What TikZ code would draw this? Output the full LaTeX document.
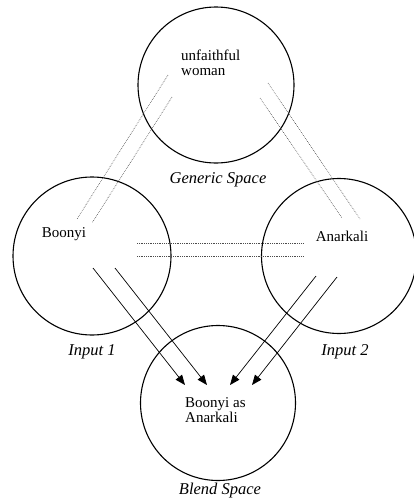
\documentclass[tikz,border=0pt]{standalone}
\usepackage{fontspec}
\setmainfont{Liberation Serif}
\usetikzlibrary{arrows.meta}
\begin{document}
\begin{tikzpicture}[x=1pt,y=-1pt,
  space/.style={draw, circle, line width=1.1pt, inner sep=0pt},
  lbl/.style={inner sep=0pt, font=\fontsize{15}{15.5}\selectfont},
  spacename/.style={inner sep=0pt, font=\fontsize{16.5}{18}\selectfont\itshape},
  dotline/.style={line width=0.6pt, black!70, dash pattern=on 0.7pt off 1.1pt},
  maparrow/.style={line width=0.7pt, -{Triangle[length=10pt,width=8pt]}}]
\useasboundingbox (0,0) rectangle (414,504);
% spaces
\node[space, minimum size=156pt] (gen) at (216,85) {};
\node[space, minimum size=158pt] (in1) at (92,256) {};
\node[space, minimum size=155pt] (in2) at (339,256) {};
\node[space, minimum size=155pt] (blend) at (218,403) {};
% texts
\node[lbl, align=left, anchor=west] (tgen) at (181,63) {unfaithful\\woman};
\node[lbl] (tin1) at (64,234) {Boonyi};
\node[lbl] (tin2) at (342,236) {Anarkali};
\node[lbl, align=left, anchor=west] (tblend) at (185,410) {Boonyi as\\Anarkali};
\node[spacename] (cgen) at (218,180) {Generic Space};
\node[spacename] (cin1) at (92,352) {Input 1};
\node[spacename] (cin2) at (345,352) {Input 2};
\node[spacename] (cblend) at (220,491) {Blend Space};
% dotted connector end points
\coordinate (ga1) at (168,75);  \coordinate (ia1) at (77,219);
\coordinate (ga2) at (172,97);  \coordinate (ia2) at (92,223);
\coordinate (gb1) at (268,83);  \coordinate (ib1) at (360,219);
\coordinate (gb2) at (260,98);  \coordinate (ib2) at (342,218);
\coordinate (h1a) at (137,243); \coordinate (h1b) at (303,243);
\coordinate (h2a) at (137,256); \coordinate (h2b) at (303,256);
\draw[dotline] (ga1) -- (ia1);
\draw[dotline] (ga2) -- (ia2);
\draw[dotline] (gb1) -- (ib1);
\draw[dotline] (gb2) -- (ib2);
\draw[dotline] (h1a) -- (h1b);
\draw[dotline] (h2a) -- (h2b);
% arrows
\coordinate (a1s) at (93,268);  \coordinate (a1e) at (185,385);
\coordinate (a2s) at (115,268); \coordinate (a2e) at (207,385);
\coordinate (a3s) at (316,276); \coordinate (a3e) at (230,385);
\coordinate (a4s) at (337,277); \coordinate (a4e) at (252,385);
\draw[maparrow] (a1s) -- (a1e);
\draw[maparrow] (a2s) -- (a2e);
\draw[maparrow] (a3s) -- (a3e);
\draw[maparrow] (a4s) -- (a4e);
\end{tikzpicture}
\end{document}
